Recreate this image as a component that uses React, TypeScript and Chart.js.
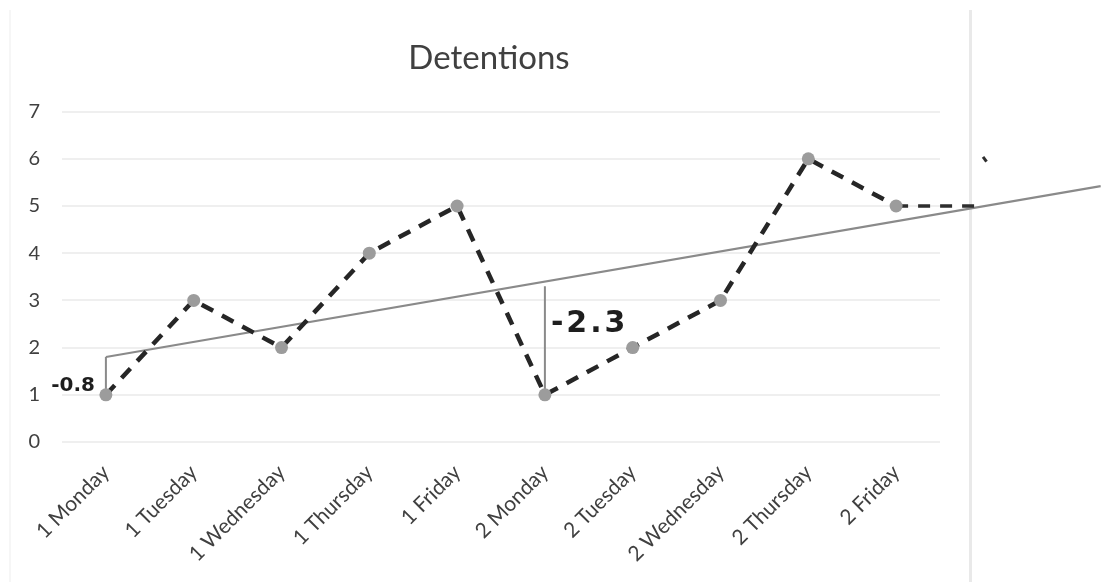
import React, { useEffect, useRef } from 'react';
import { Chart, registerables } from 'chart.js';

Chart.register(...registerables);

// Days on the x axis (day number = index + 1)
const DAYS = [
  '1 Monday', '1 Tuesday', '1 Wednesday', '1 Thursday', '1 Friday',
  '2 Monday', '2 Tuesday', '2 Wednesday', '2 Thursday', '2 Friday',
];
// Detentions per day
const DETENTIONS = [1, 3, 2, 4, 5, 1, 2, 3, 6, 5];

// Linear trend line, as drawn (extends past the last day)
const TREND_X = [1, 12.33];
const TREND_Y = [1.8, 5.42];

// Residuals pencilled in against the trend line
const RESIDUAL_DAYS = [1, 6];
const RESIDUALS = [-0.8, -2.3];
const RESIDUAL_LABELS = ['-0.8', '-2.3'];
const RESIDUAL_LABEL_Y = [1.2, 2.5];

// Pencilled continuation after the last day
const NEXT_X = [10, 11, 11];
const NEXT_Y = [5, 5, 3.1];
const NEXT_TICK_X = [10.99, 11.03];
const NEXT_TICK_Y = [6.04, 5.94];

const Y_MAX = 7;

const TEXT_COLOR = '#404040';
const FONT = 'Lato, "Open Sans", sans-serif';

const residualNotes = {
  id: 'residualNotes',
  afterDatasetsDraw(chart: Chart) {
    const { ctx } = chart;
    const x = chart.scales.x;
    const y = chart.scales.y;
    const styles = [
      { size: 20, align: 'right' as CanvasTextAlign, dx: -11, spacing: '0px' },
      { size: 30, align: 'left' as CanvasTextAlign, dx: 6, spacing: '3px' },
    ];
    ctx.save();
    ctx.fillStyle = '#1e1e1e';
    ctx.textBaseline = 'middle';
    RESIDUAL_LABELS.forEach((label, i) => {
      const st = styles[i];
      ctx.font = `bold ${st.size}px "DejaVu Sans", sans-serif`;
      (ctx as any).letterSpacing = st.spacing;
      ctx.textAlign = st.align;
      ctx.fillText(
        label,
        x.getPixelForValue(RESIDUAL_DAYS[i]) + st.dx,
        y.getPixelForValue(RESIDUAL_LABEL_Y[i])
      );
    });
    ctx.restore();
  },
};

export default function App() {
  const canvasRef = useRef<HTMLCanvasElement | null>(null);

  useEffect(() => {
    if (!canvasRef.current) return;

    const residualSets = RESIDUAL_DAYS.map((day, i) => {
      const v = DETENTIONS[day - 1];
      return {
        type: 'line' as const,
        data: [
          { x: day, y: v },
          { x: day, y: v - RESIDUALS[i] },
        ],
        borderColor: '#8a8a8a',
        borderWidth: 2,
        pointRadius: 0,
        order: 3,
      };
    });

    const chart = new Chart(canvasRef.current, {
      type: 'line',
      data: {
        datasets: [
          {
            label: 'Detentions',
            data: DETENTIONS.map((v, i) => ({ x: i + 1, y: v })),
            borderColor: '#262626',
            borderWidth: 4.5,
            borderDash: [13, 10],
            pointRadius: 6.5,
            pointBorderWidth: 0,
            pointBackgroundColor: '#9c9c9c',
            order: 1,
          },
          {
            label: 'Trend',
            data: TREND_X.map((x, i) => ({ x, y: TREND_Y[i] })),
            borderColor: '#8a8a8a',
            borderWidth: 2.2,
            pointRadius: 0,
            clip: false,
            order: 4,
          },
          ...residualSets,
          {
            label: 'Next',
            data: NEXT_X.map((x, i) => ({ x, y: NEXT_Y[i] })),
            borderColor: '#2e2e2e',
            borderWidth: 3.5,
            borderDash: [12, 10],
            pointRadius: 0,
            clip: false,
            order: 2,
          },
          {
            label: 'Next mark',
            data: NEXT_TICK_X.map((x, i) => ({ x, y: NEXT_TICK_Y[i] })),
            borderColor: '#2e2e2e',
            borderWidth: 3,
            pointRadius: 0,
            clip: false,
            order: 2,
          },
        ],
      },
      options: {
        animation: false,
        responsive: false,
        events: [],
        layout: { padding: { left: 24, right: 147, top: 0, bottom: 0 } },
        plugins: {
          legend: { display: false },
          tooltip: { enabled: false },
          title: {
            display: true,
            text: 'Detentions',
            color: TEXT_COLOR,
            font: { family: FONT, size: 33, weight: 'normal' },
            padding: { top: 39, bottom: 33 },
          },
        },
        scales: {
          x: {
            type: 'linear',
            min: 0.5,
            max: 10.5,
            afterBuildTicks: (s: any) => {
              s.ticks = DAYS.map((_, i) => ({ value: i + 1 }));
            },
            afterFit: (s: any) => {
              s.height = 140;
            },
            ticks: {
              autoSkip: false,
              minRotation: 45,
              maxRotation: 45,
              padding: 10,
              color: TEXT_COLOR,
              font: { family: FONT, size: 21 },
              callback: (v: any) => DAYS[Math.round(Number(v)) - 1] ?? '',
            },
            grid: { display: false },
            border: { display: false },
          },
          y: {
            min: 0,
            max: Y_MAX,
            afterFit: (s: any) => {
              s.width = 38;
            },
            ticks: {
              stepSize: 1,
              padding: 22,
              color: TEXT_COLOR,
              font: { family: FONT, size: 20 },
            },
            grid: { color: '#efefef', lineWidth: 2, drawTicks: false },
            border: { display: false },
          },
          // empty right-hand gutter so the title sits centred on the chart box
          gutter: {
            type: 'linear',
            position: 'right',
            afterFit: (s: any) => {
              s.width = 14;
            },
            ticks: { display: false },
            grid: { display: false },
            border: { display: false },
          },
        },
      },
      plugins: [residualNotes],
    });

    return () => chart.destroy();
  }, []);

  return (
    <div
      style={{
        position: 'fixed',
        left: 0,
        top: 0,
        width: 1101,
        height: 582,
        background: '#ffffff',
        overflow: 'hidden',
      }}
    >
      <div
        style={{
          position: 'absolute',
          left: 9,
          top: 10,
          width: 958,
          height: 580,
          borderLeft: '2px solid #f6f6f6',
          borderRight: '3px solid #e9e9e9',
        }}
      />
      <canvas
        ref={canvasRef}
        width={1101}
        height={582}
        style={{ position: 'absolute', left: 0, top: 0, display: 'block' }}
      />
    </div>
  );
}
